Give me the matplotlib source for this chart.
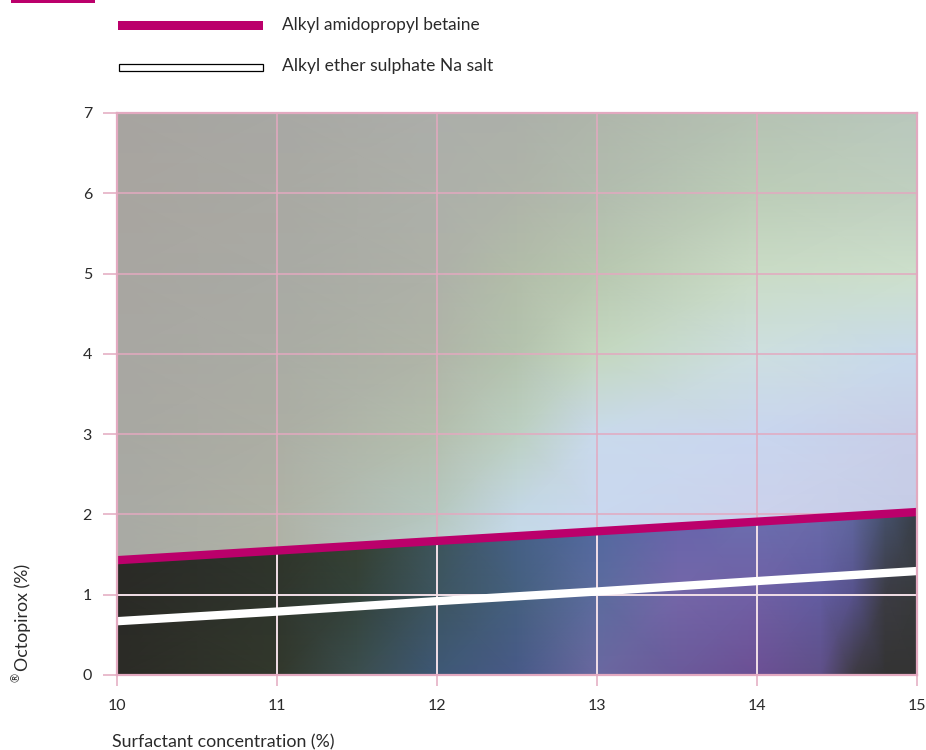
import matplotlib
matplotlib.use('Agg')
import numpy as np
import matplotlib.pyplot as plt
from matplotlib.colors import to_rgb
from matplotlib.patches import Polygon, Rectangle

conc = [10, 11, 12, 13, 14, 15]
betaine = [1.43, 1.55, 1.67, 1.79, 1.91, 2.03]
sulphate = [0.67, 0.79, 0.92, 1.04, 1.17, 1.295]

# colour field above the betaine line
upper_x = [10, 11, 12, 12.5, 13, 14, 15]
upper_y = [1.4, 2, 3, 4, 5, 6, 7]
upper_colors = [
    ['#a9aaa4', '#afb2a6', '#bdd0d4', '#c8dcec', '#c9d8ef', '#ccd2ec', '#c6cce6'],
    ['#a9aaa4', '#afb2a6', '#b6c8c0', '#c4d8e6', '#c9d8ef', '#ccd2ec', '#c6cce6'],
    ['#a8a8a2', '#acaea4', '#b4bfae', '#bcd0c2', '#c9daec', '#c9d6ef', '#c8cee8'],
    ['#a8a7a2', '#aaaca4', '#b0b5a8', '#b4c3ae', '#c4d8c0', '#cddfe0', '#c8daec'],
    ['#a8a6a1', '#a9aaa4', '#aeb1a8', '#b2bda9', '#b8c8b0', '#cadcc6', '#cde0cc'],
    ['#a8a5a0', '#a9a9a3', '#adb0a9', '#afb4a9', '#b2bcae', '#bccdb8', '#c0d0c0'],
    ['#a7a4a0', '#a8a8a4', '#acaeaa', '#acb0a9', '#afb6ab', '#b5c2b3', '#b9c8bd'],
]

# colour field below it
lower_x = [10, 11, 11.5, 12, 12.5, 13, 13.5, 14, 14.4, 14.6, 14.8, 15]
lower_y = [0, 1, 2.1]
lower_colors = [
    ['#2b2b26', '#32382c', '#3b4e4e', '#3e5876', '#485a88', '#6a68a0', '#6a5a9a', '#6c4f94', '#5f4f88', '#3f3b45', '#333333', '#333333'],
    ['#2a2a26', '#2f352c', '#33423a', '#3d5560', '#45607f', '#5c6c9e', '#7466a8', '#7060a5', '#625ca0', '#57528c', '#3c3c44', '#383a3c'],
    ['#2a2a26', '#2e342a', '#383f2e', '#3c5558', '#456088', '#5068a0', '#6565ac', '#6a70b0', '#6a6cab', '#6068a0', '#46526f', '#383f48'],
]

xticks = [10, 11, 12, 13, 14, 15]
yticks = [0, 1, 2, 3, 4, 5, 6, 7]

MAGENTA = '#bb006b'
PINK = '#e3a9c0'
PALE = '#f3e3ea'
TEXT = '#2a2a2a'
FONT = 'Lato'


def rgb_grid(rows):
    return np.array([[to_rgb(c) for c in row] for row in rows])


def draw_chart(ofpath):
    plt.rcParams['font.family'] = FONT
    fig = plt.figure(figsize=(9.26, 7.5), dpi=100)
    ax = fig.add_axes([117 / 926, 1 - 675 / 750, 800 / 926, 562 / 750])
    ax.set_xlim(10, 15)
    ax.set_ylim(0, 7)

    below = Polygon([(10, 0), (15, 0), (15, betaine[-1]), (10, betaine[0])],
                    transform=ax.transData, fc='none', ec='none')
    ax.add_patch(below)

    ax.pcolormesh(upper_x, upper_y, rgb_grid(upper_colors), shading='gouraud', zorder=1)
    m = ax.pcolormesh(lower_x, lower_y, rgb_grid(lower_colors), shading='gouraud', zorder=2)
    m.set_clip_path(below)

    for x in xticks[1:-1]:
        ax.axvline(x, color=PINK, lw=1.1, zorder=3)
        pale = ax.axvline(x, color=PALE, lw=1.3, zorder=3.1)
        pale.set_clip_path(below)
    for y in yticks[1:-1]:
        ax.axhline(y, color=PINK, lw=1.1, zorder=3)
    pale = ax.axhline(1, color=PALE, lw=1.3, zorder=3.1)
    pale.set_clip_path(below)

    ax.plot(conc, sulphate, color='white', lw=6, solid_capstyle='butt', zorder=4)
    ax.plot(conc, betaine, color=MAGENTA, lw=6, solid_capstyle='butt', zorder=4)

    for s in ax.spines.values():
        s.set_color(PINK)
        s.set_linewidth(1.6)
        s.set_zorder(5)

    ax.set_xticks(xticks)
    ax.set_yticks(yticks)
    ax.tick_params(axis='x', length=8, width=1.1, color=PINK, labelsize=11.5, pad=9.5, labelcolor=TEXT)
    ax.tick_params(axis='y', length=10, width=1.1, color=PINK, labelsize=11.5, pad=8, labelcolor=TEXT)

    fig.text(112 / 926, 1 - 742 / 750, 'Surfactant concentration (%)', fontsize=12.8,
             va='center', ha='left', color=TEXT)
    fig.text(23 / 926, 1 - 671 / 750, 'Octopirox (%)', fontsize=12.8, rotation=90,
             va='bottom', ha='center', color=TEXT)
    fig.text(16 / 926, 1 - 673 / 750, '\u00ae', fontsize=8, rotation=90,
             va='top', ha='center', color=TEXT)

    # legend drawn by hand in figure pixels
    fig.add_artist(Rectangle((11 / 926, 1 - 3 / 750), 84 / 926, 3 / 750,
                             transform=fig.transFigure, fc=MAGENTA, ec='none'))
    fig.add_artist(Rectangle((118 / 926, 1 - 30 / 750), 145 / 926, 9 / 750,
                             transform=fig.transFigure, fc=MAGENTA, ec='none'))
    fig.add_artist(Rectangle((118.5 / 926, 1 - 70.5 / 750), 144 / 926, 7 / 750,
                             transform=fig.transFigure, fc='white', ec='black', lw=0.9))
    fig.text(282 / 926, 1 - 25 / 750, 'Alkyl amidopropyl betaine', fontsize=12.4,
             va='center', ha='left', color=TEXT)
    fig.text(282 / 926, 1 - 66 / 750, 'Alkyl ether sulphate Na salt', fontsize=12.6,
             va='center', ha='left', color=TEXT)

    plt.savefig(ofpath, dpi=100)
    plt.close()


if __name__ == '__main__':
    draw_chart('out.png')
